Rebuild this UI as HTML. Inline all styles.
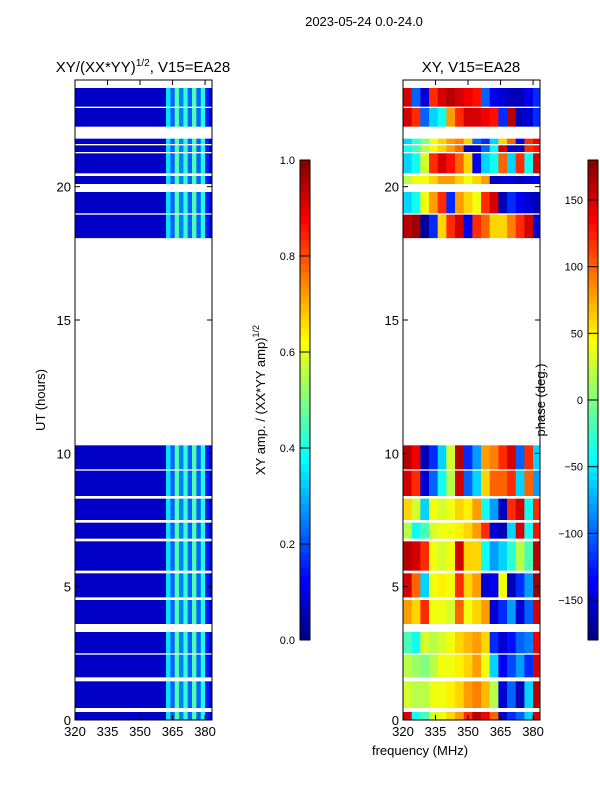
<!DOCTYPE html>
<html><head><meta charset="utf-8"><style>
body{margin:0;background:#fff;}
svg text{font-family:"Liberation Sans",sans-serif;fill:#000;}
</style></head><body>
<svg id="fig" width="600" height="800" viewBox="0 0 600 800" xmlns="http://www.w3.org/2000/svg">
<rect width="600" height="800" fill="#fff"/>
<text x="364" y="26" font-size="13" text-anchor="middle">2023-05-24 0.0-24.0</text>
<text x="143" y="72" font-size="15" text-anchor="middle">XY/(XX*YY)<tspan dy="-6" font-size="10">1/2</tspan><tspan dy="6">, V15=EA28</tspan></text>
<text x="471" y="72" font-size="15" text-anchor="middle">XY, V15=EA28</text>
<text transform="translate(45,400) rotate(-90)" font-size="13" text-anchor="middle">UT (hours)</text>
<text x="420" y="755" font-size="13" text-anchor="middle">frequency (MHz)</text>
<text transform="translate(265,400) rotate(-90)" font-size="13" text-anchor="middle">XY amp. / (XX*YY amp)<tspan dy="-6" font-size="9">1/2</tspan></text>
<text transform="translate(545,400) rotate(-90)" font-size="13" text-anchor="middle">phase (deg.)</text>
<g id="left"></g>
<g id="right"></g>
<g id="cb1"></g>
<g id="cb2"></g>
</svg>
<script>
// data arrays
const segStart = [0.0, 0.45, 1.6, 2.5, 3.6, 4.6, 5.6, 6.8, 7.5, 8.4, 9.4, 18.07, 19.0, 20.1, 20.5, 21.3, 21.6, 22.25, 23.0];
const segEnd   = [0.3, 1.45, 2.45, 3.3, 4.5, 5.5, 6.7, 7.4, 8.3, 9.35, 10.3, 18.95, 19.8, 20.4, 21.25, 21.55, 21.8, 22.95, 23.7];
const freqBins = [320,324,328,332,336,340,344,348,352,356,360,364,368,372,376,380];
const phaseGrid = [
 [150,-40,-20,30,40,60,80,120,160,140,100,-150,-120,-100,-60,150],
 [30,20,20,40,40,50,60,80,90,70,20,-150,-100,-160,-60,160],
 [20,10,0,20,40,40,50,60,80,40,-60,-140,-110,-80,-120,150],
 [-20,-40,30,20,30,40,60,70,80,60,-120,-150,-130,-100,-90,140],
 [80,60,120,40,40,30,100,40,60,80,-150,-120,-80,-150,-100,150],
 [150,100,-60,40,50,40,120,60,80,-150,-140,40,-160,-120,-80,170],
 [160,150,120,40,30,40,150,60,60,-40,-80,-60,-30,20,-20,160],
 [20,-40,-20,30,40,40,50,60,80,120,-150,-160,-60,150,-40,130],
 [60,30,-60,40,30,40,60,50,80,-40,-80,-160,120,150,-40,120],
 [150,120,-150,-100,-40,20,150,-100,-60,60,100,100,120,-60,100,-80],
 [160,140,-160,-120,-60,30,160,-120,-80,80,90,120,150,-100,120,-60],
 [160,170,-170,-120,60,120,150,-140,120,100,60,60,90,120,150,-150],
 [-60,-40,40,80,120,-120,80,60,40,120,150,-160,-120,-140,-150,-160],
 [20,40,40,60,80,80,60,40,60,80,-160,-150,-150,-160,-150,-140],
 [-60,-40,30,120,150,130,100,60,-140,-60,-40,100,-60,120,-40,150],
 [-40,-20,20,40,60,80,100,-160,-160,-100,-40,150,-150,-160,120,130],
 [-60,-30,0,40,60,80,90,60,-100,-120,-60,60,100,-140,120,140],
 [150,120,-100,-60,-40,80,120,150,150,140,130,-120,160,-160,-150,-120],
 [150,-100,-150,120,150,160,150,140,130,-100,-140,-150,-160,-160,-140,-120]
];
const ampFreqBins = [320,362,364,366,368,370,372,374,376,378,380,382];
const ampProfile  = [0.07,0.35,0.22,0.45,0.25,0.42,0.22,0.45,0.22,0.40,0.15,0.08];
const ampTicks = [0.0,0.2,0.4,0.6,0.8,1.0];
const phaseTicks = [-150,-100,-50,0,50,100,150];
const yTicks = [0,5,10,15,20];
const xTicks = [320,335,350,365,380];

const NS="http://www.w3.org/2000/svg";
const Y0=720,Y1=80,F0=320,F1=383.2;
function yScale(h){return Y0-(h/24)*(Y0-Y1);}
function xScale(f,px){return px+(f-F0)/(F1-F0)*137;}
function jet(v){v=Math.max(0,Math.min(1,v));
 const r=Math.max(0,Math.min(1,1.5-Math.abs(4*v-3)));
 const g=Math.max(0,Math.min(1,1.5-Math.abs(4*v-2)));
 const b=Math.max(0,Math.min(1,1.5-Math.abs(4*v-1)));
 return `rgb(${Math.round(r*255)},${Math.round(g*255)},${Math.round(b*255)})`;}
function mk(tag,attrs,parent){const e=document.createElementNS(NS,tag);for(const k in attrs)e.setAttribute(k,attrs[k]);parent.appendChild(e);return e;}

function axes(g,px){
 mk('rect',{x:px,y:Y1,width:137,height:Y0-Y1,fill:'none',stroke:'#000','stroke-width':1},g);
 yTicks.forEach(t=>{const y=yScale(t);
  mk('line',{x1:px,x2:px+5,y1:y,y2:y,stroke:'#000'},g);
  mk('line',{x1:px+137,x2:px+132,y1:y,y2:y,stroke:'#000'},g);
  const tx=mk('text',{x:px-4,y:y+5,'font-size':13,'text-anchor':'end'},g);tx.textContent=t;
  
  });
 xTicks.forEach(t=>{const x=xScale(t,px);
  mk('line',{x1:x,x2:x,y1:Y0,y2:Y0-5,stroke:'#000'},g);
  mk('line',{x1:x,x2:x,y1:Y1,y2:Y1+5,stroke:'#000'},g);
  const tx=mk('text',{x:x,y:Y0+16,'font-size':13,'text-anchor':'middle'},g);tx.textContent=t;
  
  });
}

// amplitude heatmap
const L=document.getElementById('left');
segStart.forEach((s,i)=>{
 ampFreqBins.forEach((f,j)=>{
  const f2=j+1<ampFreqBins.length?ampFreqBins[j+1]:F1;
  const x=xScale(f,75),w=xScale(Math.min(f2,F1),75)-x;
  const r=mk('rect',{x:x,y:yScale(segEnd[i]),width:w+0.3,height:yScale(s)-yScale(segEnd[i]),fill:jet(ampProfile[j])},L);
  
  
 });
});
axes(L,75);

// phase heatmap
const R=document.getElementById('right');
segStart.forEach((s,i)=>{
 freqBins.forEach((f,j)=>{
  const f2=Math.min(f+4,F1);
  const x=xScale(f,403),w=xScale(f2,403)-x;
  const r=mk('rect',{x:x,y:yScale(segEnd[i]),width:w+0.3,height:yScale(s)-yScale(segEnd[i]),fill:jet((phaseGrid[i][j]+180)/360)},R);
  
  
 });
});
axes(R,403);

// colorbars
function colorbar(g,x,vmin,vmax,ticks,fmt){
 const top=160,bot=640,n=60;
 for(let k=0;k<n;k++){
  mk('rect',{x:x,y:bot-(k+1)*(bot-top)/n,width:10,height:(bot-top)/n+0.5,fill:jet((k+0.5)/n)},g);
 }
 mk('rect',{x:x,y:top,width:10,height:bot-top,fill:'none',stroke:'#000'},g);
 ticks.forEach(t=>{const y=bot-(t-vmin)/(vmax-vmin)*(bot-top);
  mk('line',{x1:x,x2:x+10,y1:y,y2:y,stroke:'#000'},g);
  const tx=mk('text',{x:x-5,y:y+4,'font-size':11,'text-anchor':'end'},g);tx.textContent=fmt(t);
  
  });
}
colorbar(document.getElementById('cb1'),300,0,1,ampTicks,t=>t.toFixed(1));
colorbar(document.getElementById('cb2'),588,-180,180,phaseTicks,t=>t<0?'\u2212'+Math.abs(t):String(t));
</script>
</body></html>
